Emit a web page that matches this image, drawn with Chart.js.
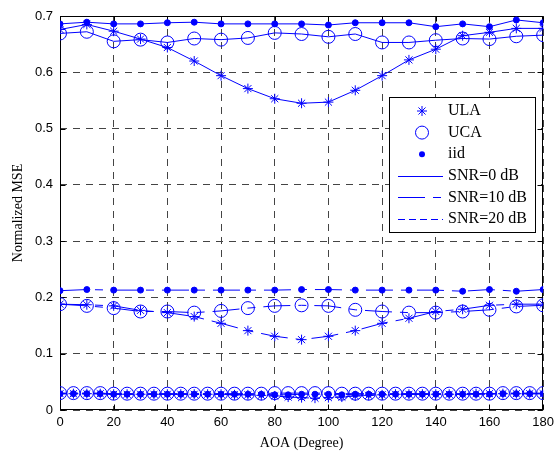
<!DOCTYPE html>
<html><head><meta charset="utf-8">
<script src="https://cdn.jsdelivr.net/npm/chart.js@4/dist/chart.umd.min.js"></script>
<style>html,body{margin:0;padding:0;background:#fff}#c{display:block}</style>
</head><body>
<canvas id="c" width="559" height="456"></canvas>
<script>
// AOA in degrees
const aoa10 = [0,10,20,30,40,50,60,70,80,90,100,110,120,130,140,150,160,170,180];
const aoa5 = [0,5,10,15,20,25,30,35,40,45,50,55,60,65,70,75,80,85,90,95,100,105,110,115,120,125,130,135,140,145,150,155,160,165,170,175,180];

// SNR = 0 dB
const ula0 = [0.676,0.685,0.673,0.659,0.644,0.620,0.594,0.571,0.553,0.545,0.547,0.568,0.594,0.622,0.641,0.665,0.671,0.678,0.678];
const uca0 = [0.669,0.672,0.655,0.658,0.653,0.660,0.658,0.661,0.670,0.668,0.663,0.668,0.653,0.653,0.657,0.660,0.659,0.664,0.666];
const iid0 = [0.686,0.689,0.686,0.686,0.688,0.689,0.686,0.686,0.686,0.686,0.684,0.688,0.688,0.688,0.681,0.686,0.681,0.693,0.688];

// SNR = 10 dB
const ula10 = [0.188,0.187,0.185,0.177,0.173,0.166,0.154,0.141,0.131,0.125,0.131,0.141,0.154,0.163,0.175,0.179,0.186,0.188,0.188];
const uca10 = [0.188,0.185,0.181,0.175,0.175,0.173,0.176,0.181,0.185,0.186,0.185,0.178,0.175,0.173,0.173,0.175,0.178,0.184,0.186];
const iid10 = [0.212,0.214,0.213,0.213,0.213,0.213,0.213,0.213,0.213,0.214,0.214,0.213,0.213,0.213,0.213,0.211,0.214,0.211,0.214];

// SNR = 20 dB
const ula20 = [0.029,0.029,0.029,0.029,0.028,0.028,0.028,0.028,0.028,0.028,0.028,0.028,0.028,0.027,0.027,0.026,0.025,0.023,0.022,0.021,0.022,0.023,0.025,0.026,0.027,0.028,0.028,0.028,0.028,0.028,0.028,0.029,0.029,0.029,0.029,0.029,0.029];
const uca20 = [0.030,0.030,0.030,0.030,0.029,0.029,0.029,0.029,0.029,0.029,0.029,0.029,0.029,0.029,0.029,0.029,0.030,0.030,0.030,0.030,0.030,0.029,0.029,0.029,0.029,0.029,0.029,0.029,0.029,0.029,0.029,0.029,0.029,0.030,0.030,0.030,0.030];
const iid20 = [0.029,0.029,0.029,0.029,0.028,0.028,0.028,0.028,0.028,0.028,0.028,0.028,0.028,0.028,0.028,0.028,0.027,0.027,0.028,0.028,0.028,0.027,0.028,0.028,0.028,0.028,0.028,0.028,0.028,0.028,0.028,0.028,0.028,0.029,0.029,0.029,0.029];

const xTicks = [0,20,40,60,80,100,120,140,160,180];
const yTicks = [0,0.1,0.2,0.3,0.4,0.5,0.6,0.7];
const legendLabels = ['ULA','UCA','iid','SNR=0 dB','SNR=10 dB','SNR=20 dB'];

const BLUE = '#0000ff';
const DASH = { s0: [], s10: [27,8,8,8], s20: [7,4] };
const MARK = {
  ula: { pointStyle: 'star', pointRadius: 5, pointBackgroundColor: BLUE },
  uca: { pointStyle: 'circle', pointRadius: 6.5, pointBackgroundColor: 'rgba(0,0,0,0)' },
  iid: { pointStyle: 'circle', pointRadius: 3, pointBackgroundColor: BLUE }
};

function ds(label, xs, ys, mark, dash) {
  return Object.assign({
    label,
    data: xs.map((x, i) => ({ x, y: ys[i] })),
    borderColor: BLUE,
    borderWidth: 1,
    borderDash: dash,
    pointBorderColor: BLUE,
    pointBorderWidth: 1,
    pointHoverRadius: 0,
    tension: 0,
    fill: false
  }, mark);
}

const datasets = [
  ds('ULA 0', aoa10, ula0, MARK.ula, DASH.s0),
  ds('UCA 0', aoa10, uca0, MARK.uca, DASH.s0),
  ds('iid 0', aoa10, iid0, MARK.iid, DASH.s0),
  ds('ULA 10', aoa10, ula10, MARK.ula, DASH.s10),
  ds('UCA 10', aoa10, uca10, MARK.uca, DASH.s10),
  ds('iid 10', aoa10, iid10, MARK.iid, DASH.s10),
  ds('ULA 20', aoa5, ula20, MARK.ula, DASH.s20),
  ds('UCA 20', aoa5, uca20, MARK.uca, DASH.s20),
  ds('iid 20', aoa5, iid20, MARK.iid, DASH.s20)
];

const SERIF = "'Liberation Serif','Times New Roman',serif";
const SANS = "'Liberation Sans',Arial,sans-serif";

const framePlugin = {
  id: 'frame',
  beforeDatasetsDraw(chart) {
    const { ctx, chartArea: a, scales: { x, y } } = chart;
    const L = Math.round(a.left) + 0.5, R = Math.round(a.right) - 0.5;
    const T = Math.round(a.top) + 0.5, B = Math.round(a.bottom) - 0.5;
    ctx.save();
    ctx.setLineDash([]);
    ctx.strokeStyle = '#000';
    ctx.lineWidth = 1;
    ctx.strokeRect(L, T, R - L, B - T);
    ctx.beginPath();
    xTicks.forEach(v => {
      const px = Math.round(x.getPixelForValue(v)) + 0.5;
      ctx.moveTo(px, B); ctx.lineTo(px, B - 5);
      ctx.moveTo(px, T); ctx.lineTo(px, T + 5);
    });
    yTicks.forEach(v => {
      const py = Math.round(y.getPixelForValue(v)) + 0.5;
      ctx.moveTo(L, py); ctx.lineTo(L + 5, py);
      ctx.moveTo(R, py); ctx.lineTo(R - 5, py);
    });
    ctx.stroke();
    ctx.restore();
  }
};

const legendPlugin = {
  id: 'boxLegend',
  afterDraw(chart) {
    const ctx = chart.ctx;
    const bx = 389.5, by = 97.5, bw = 146, bh = 135;
    ctx.save();
    ctx.fillStyle = '#fff';
    ctx.fillRect(bx, by, bw, bh);
    ctx.strokeStyle = '#000';
    ctx.lineWidth = 1;
    ctx.setLineDash([]);
    ctx.strokeRect(bx, by, bw, bh);
    const rowY = i => 111 + i * 21.6;
    const mx = 422, lx0 = 398, lx1 = 443, tx = 448;
    // star marker
    ctx.strokeStyle = BLUE;
    ctx.fillStyle = BLUE;
    ctx.lineWidth = 1;
    Chart.helpers.drawPoint(ctx, { pointStyle: 'star', radius: MARK.ula.pointRadius, borderWidth: 1, rotation: 0 }, mx, rowY(0));
    // open circle
    ctx.strokeStyle = BLUE;
    ctx.beginPath(); ctx.arc(mx, rowY(1), MARK.uca.pointRadius, 0, Math.PI * 2); ctx.stroke();
    // filled dot
    ctx.fillStyle = BLUE;
    ctx.beginPath(); ctx.arc(mx, rowY(2), MARK.iid.pointRadius, 0, Math.PI * 2); ctx.fill();
    // line styles
    [DASH.s0, DASH.s10, DASH.s20].forEach((d, i) => {
      const yy = Math.round(rowY(i + 3)) + 0.5;
      ctx.strokeStyle = BLUE;
      ctx.lineWidth = 1;
      ctx.setLineDash(d);
      ctx.beginPath(); ctx.moveTo(lx0, yy); ctx.lineTo(lx1, yy); ctx.stroke();
    });
    ctx.setLineDash([]);
    ctx.fillStyle = '#000';
    ctx.font = '16px ' + SERIF;
    ctx.textBaseline = 'middle';
    ctx.textAlign = 'left';
    legendLabels.forEach((t, i) => ctx.fillText(t, tx, rowY(i)));
    ctx.restore();
  }
};

new Chart(document.getElementById('c'), {
  type: 'line',
  data: { datasets },
  options: {
    responsive: false,
    animation: false,
    events: [],
    layout: { padding: { top: 16, right: 13, left: 0, bottom: 0 } },
    plugins: { legend: { display: false }, tooltip: { enabled: false } },
    scales: {
      x: {
        type: 'linear', min: 0, max: 180,
        afterFit: s => { s.height = 46; },
        afterBuildTicks: s => { s.ticks = xTicks.map(v => ({ value: v })); },
        ticks: { font: { family: SANS, size: 13 }, color: '#000', padding: 5, maxRotation: 0, callback: v => String(v) },
        grid: { color: '#444', lineWidth: 1, drawTicks: false },
        border: { display: false, dash: [7, 6] },
        title: { display: true, text: 'AOA (Degree)', font: { family: SERIF, size: 14 }, color: '#000', padding: { top: 0, bottom: 4 } }
      },
      y: {
        type: 'linear', min: 0, max: 0.7,
        afterFit: s => { s.width = 60; },
        afterBuildTicks: s => { s.ticks = yTicks.map(v => ({ value: v })); },
        ticks: { font: { family: SANS, size: 13 }, color: '#000', padding: 7, callback: v => String(Math.round(v * 10) / 10) },
        grid: { color: '#444', lineWidth: 1, drawTicks: false },
        border: { display: false, dash: [7, 6] },
        title: { display: true, text: 'Normalized MSE', font: { family: SERIF, size: 14 }, color: '#000', padding: { top: 10, bottom: 0 } }
      }
    }
  },
  plugins: [framePlugin, legendPlugin]
});
</script>
</body></html>
